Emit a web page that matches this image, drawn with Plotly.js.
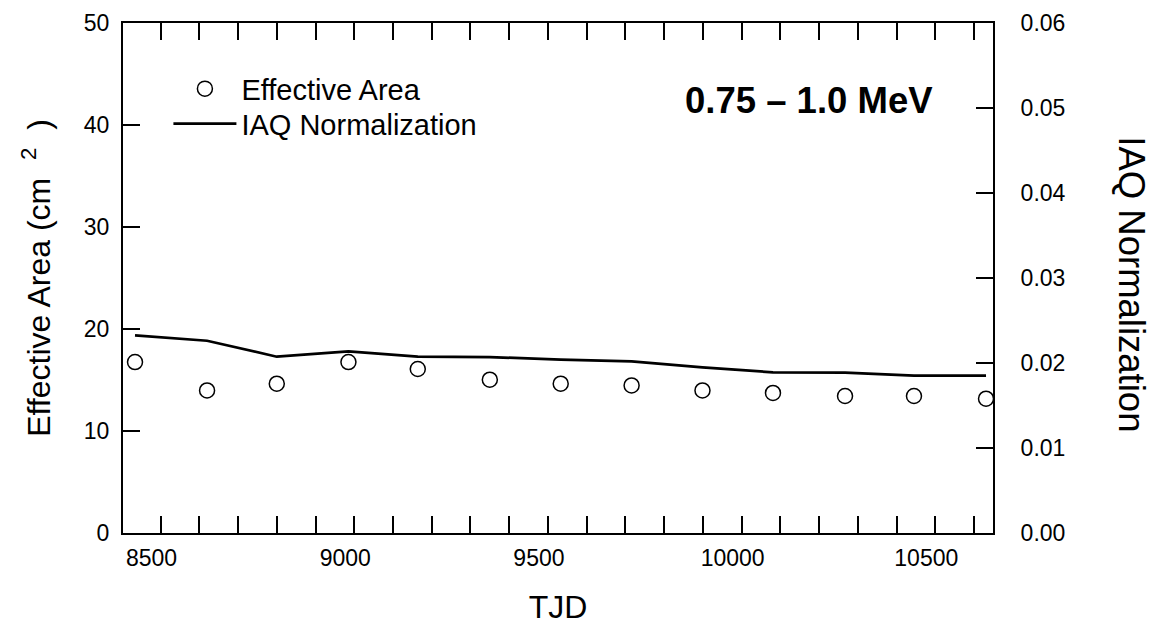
<!DOCTYPE html>
<html>
<head>
<meta charset="utf-8">
<script src="https://cdn.plot.ly/plotly-3.0.1.min.js"></script>
<style>html,body{margin:0;padding:0;background:#fff;}#chart{width:1151px;height:625px;}</style>
</head>
<body>
<div id="chart"></div>
<script>
// TJD of each measurement
const tjd = [8434, 8620, 8800, 8985, 9164, 9350, 9533, 9716, 9899, 10081, 10267, 10445, 10631];
// Effective area (cm^2), left axis
const effArea = [16.76, 13.98, 14.64, 16.76, 16.08, 15.03, 14.64, 14.47, 13.98, 13.73, 13.43, 13.43, 13.17];
// IAQ normalization, right axis
const iaqNorm = [0.02325, 0.02262, 0.02074, 0.02137, 0.02074, 0.0207, 0.0204, 0.0202, 0.01949, 0.0189, 0.01887, 0.01851, 0.01851];
const xTickVals = [8500, 9000, 9500, 10000, 10500];
const yTickVals = [0, 10, 20, 30, 40, 50];
const y2TickVals = [0, 0.01, 0.02, 0.03, 0.04, 0.05, 0.06];
const seriesNames = ['Effective Area', 'IAQ Normalization'];
const bandLabel = '0.75 \u2013 1.0 MeV';

const FONT = '"Liberation Sans", Arial, Helvetica, sans-serif';

const traces = [
  {
    x: tjd, y: effArea, name: seriesNames[0], type: 'scatter', mode: 'markers',
    marker: {symbol: 'circle-open', size: 15, color: '#000', line: {width: 1.5, color: '#000'}},
    xaxis: 'x', yaxis: 'y', legend: 'legend'
  },
  {
    x: tjd, y: iaqNorm, name: seriesNames[1], type: 'scatter', mode: 'lines',
    line: {color: '#000', width: 2.7},
    xaxis: 'x', yaxis: 'y2', legend: 'legend2'
  }
];

const legendStyle = {
  xanchor: 'left', yanchor: 'top',
  bgcolor: 'rgba(0,0,0,0)', borderwidth: 0,
  font: {family: FONT, size: 29, color: '#000'},
  itemwidth: 63
};

const layout = {
  width: 1151, height: 625,
  margin: {l: 122.5, r: 157.5, t: 23, b: 91.5},
  paper_bgcolor: '#fff', plot_bgcolor: '#fff',
  font: {family: FONT, color: '#000', size: 23},
  showlegend: true,
  legend: Object.assign({x: 0.0522, y: 0.921}, legendStyle),
  legend2: Object.assign({x: 0.0522, y: 0.8525}, legendStyle),
  xaxis: {
    range: [8403, 10649],
    tickvals: xTickVals, ticktext: xTickVals.map(String),
    ticks: 'inside', ticklen: 17, tickwidth: 2, tickcolor: '#000',
    minor: {dtick: 100, tick0: 8500, ticks: 'inside', ticklen: 9, tickwidth: 2, tickcolor: '#000', showgrid: false},
    showline: true, linewidth: 2, linecolor: '#000', mirror: 'allticks',
    showgrid: false, zeroline: false,
    tickfont: {family: FONT, size: 23}, ticklabelshift: -9, ticklabelstandoff: 3,
    title: {text: 'TJD', font: {family: FONT, size: 32}, standoff: 35}
  },
  yaxis: {
    range: [0, 50],
    tickvals: yTickVals,
    ticks: 'inside', ticklen: 17, tickwidth: 2, tickcolor: '#000',
    showline: true, linewidth: 2, linecolor: '#000', mirror: false,
    showgrid: false, zeroline: false,
    tickfont: {family: FONT, size: 23}, ticklabelstandoff: 7,
    title: {text: 'Effective Area (cm\u00A0\u00A0<sup>2</sup>\u00A0\u00A0)', font: {family: FONT, size: 32}, standoff: 24}
  },
  yaxis2: {
    range: [0, 0.06], overlaying: 'y', side: 'right',
    tickvals: y2TickVals, tickformat: '.2f',
    ticks: 'inside', ticklen: 17, tickwidth: 2, tickcolor: '#000',
    showline: true, linewidth: 2, linecolor: '#000',
    showgrid: false, zeroline: false,
    tickfont: {family: FONT, size: 23}, ticklabelstandoff: 21
  },
  annotations: [
    {
      text: '<b>' + bandLabel + '</b>', xref: 'paper', yref: 'paper',
      x: 0.788, y: 0.849, xanchor: 'center', yanchor: 'middle', showarrow: false,
      font: {family: FONT, size: 36.5, color: '#000'}
    },
    {
      text: seriesNames[1], xref: 'paper', yref: 'paper',
      x: 1.159, y: 0.487, xanchor: 'center', yanchor: 'middle', showarrow: false,
      textangle: 90, font: {family: FONT, size: 36.5, color: '#000'}
    }
  ]
};

Plotly.newPlot('chart', traces, layout, {displayModeBar: false, staticPlot: true});
</script>
</body>
</html>
